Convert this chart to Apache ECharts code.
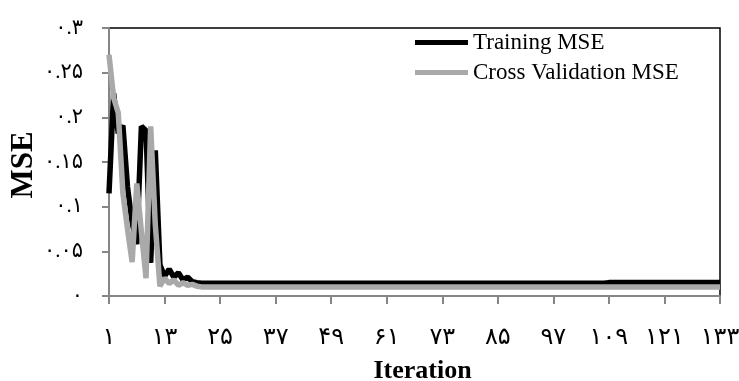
<!DOCTYPE html>
<html>
<head>
<meta charset="utf-8">
<script src="https://cdn.jsdelivr.net/npm/echarts@6/dist/echarts.min.js"></script>
<style>html,body{margin:0;padding:0;background:#fff;}#c{width:739px;height:381px;}</style>
</head>
<body>
<div id="c"></div>
<script>
// Iterations 1..133
var iterations = Array.from({length: 133}, function (_, i) { return i + 1; });
var xTickLabels = ['۱','۱۳','۲۵','۳۷','۴۹','۶۱','۷۳','۸۵','۹۷','۱۰۹','۱۲۱','۱۳۳'];
var yTickLabels = ['۰','۰.۰۵','۰.۱','۰.۱۵','۰.۲','۰.۲۵','۰.۳'];
var seriesNames = ['Training MSE', 'Cross Validation MSE'];

var trainingMSE = [
0.115,0.227,0.182,0.191,0.122,0.082,0.058,0.190,0.185,0.037,
0.163,0.035,0.022,0.030,0.021,0.026,0.018,0.021,0.016,0.015,
0.0142,0.0142,0.0142,0.0142,0.0142,0.0142,0.0142,0.0142,0.0142,0.0142,
0.0142,0.0142,0.0142,0.0142,0.0142,0.0142,0.0142,0.0142,0.0142,0.0142,
0.0142,0.0142,0.0142,0.0142,0.0142,0.0142,0.0142,0.0142,0.0142,0.0142,
0.0142,0.0142,0.0142,0.0142,0.0142,0.0142,0.0142,0.0142,0.0142,0.0142,
0.0142,0.0142,0.0142,0.0142,0.0142,0.0142,0.0142,0.0142,0.0142,0.0142,
0.0142,0.0142,0.0142,0.0142,0.0142,0.0142,0.0142,0.0142,0.0142,0.0142,
0.0142,0.0142,0.0142,0.0142,0.0142,0.0142,0.0142,0.0142,0.0142,0.0142,
0.0142,0.0142,0.0142,0.0142,0.0142,0.0142,0.0142,0.0142,0.0142,0.0142,
0.0142,0.0142,0.0142,0.0142,0.0142,0.0142,0.0142,0.0142,0.0150,0.0150,
0.0150,0.0150,0.0150,0.0150,0.0150,0.0150,0.0150,0.0150,0.0150,0.0150,
0.0150,0.0150,0.0150,0.0150,0.0150,0.0150,0.0150,0.0150,0.0150,0.0150,
0.0150,0.0150,0.0150
];

var crossValidationMSE = [
0.270,0.222,0.205,0.115,0.075,0.038,0.126,0.072,0.020,0.190,
0.080,0.011,0.020,0.014,0.018,0.012,0.015,0.012,0.013,0.011,
0.0102,0.0102,0.0102,0.0102,0.0102,0.0102,0.0102,0.0102,0.0102,0.0102,
0.0102,0.0102,0.0102,0.0102,0.0102,0.0102,0.0102,0.0102,0.0102,0.0102,
0.0102,0.0102,0.0102,0.0102,0.0102,0.0102,0.0102,0.0102,0.0102,0.0102,
0.0102,0.0102,0.0102,0.0102,0.0102,0.0102,0.0102,0.0102,0.0102,0.0102,
0.0102,0.0102,0.0102,0.0102,0.0102,0.0102,0.0102,0.0102,0.0102,0.0102,
0.0102,0.0102,0.0102,0.0102,0.0102,0.0102,0.0102,0.0102,0.0102,0.0102,
0.0102,0.0102,0.0102,0.0102,0.0102,0.0102,0.0102,0.0102,0.0102,0.0102,
0.0102,0.0102,0.0102,0.0102,0.0102,0.0102,0.0102,0.0102,0.0102,0.0102,
0.0102,0.0102,0.0102,0.0102,0.0102,0.0102,0.0102,0.0102,0.0102,0.0102,
0.0102,0.0102,0.0102,0.0102,0.0102,0.0102,0.0102,0.0102,0.0102,0.0102,
0.0102,0.0102,0.0102,0.0102,0.0102,0.0102,0.0102,0.0102,0.0102,0.0102,
0.0102,0.0102,0.0102
];

var FONT = "'Liberation Serif','Times New Roman','DejaVu Sans',serif";
var axisGrey = '#868686';
var greyLine = '#a9a9a9';

var chart = echarts.init(document.getElementById('c'), null, {renderer: 'canvas'});
chart.setOption({
  animation: false,
  backgroundColor: '#fff',
  grid: {left: 109, right: 19, top: 28, bottom: 85, containLabel: false, outerBoundsMode: 'none',
         show: true, borderColor: '#000', borderWidth: 1.5, backgroundColor: 'transparent'},
  legend: {
    orient: 'vertical', left: 415, top: 31, padding: 0, itemGap: 7,
    itemWidth: 53, itemHeight: 5, icon: 'rect',
    textStyle: {fontFamily: FONT, fontSize: 23, color: '#000'},
    data: [
      {name: seriesNames[0], itemStyle: {color: '#000'}},
      {name: seriesNames[1], itemStyle: {color: greyLine}}
    ]
  },
  xAxis: {
    type: 'category', data: iterations, boundaryGap: false,
    name: 'Iteration', nameLocation: 'middle', nameGap: 62, nameMoveOverlap: false,
    nameTextStyle: {fontFamily: FONT, fontSize: 26, fontWeight: 'bold', color: '#000', padding: [0, 0, 0, 16]},
    axisLine: {lineStyle: {color: axisGrey, width: 2}},
    axisTick: {show: true, interval: 11, length: 8, lineStyle: {color: axisGrey, width: 2}},
    axisLabel: {
      interval: 11, margin: 30, fontFamily: FONT, fontSize: 24, color: '#000', hideOverlap: false,
      formatter: function (v, idx) { return xTickLabels[Math.round(idx / 12)]; }
    },
    splitLine: {show: false}
  },
  yAxis: {
    type: 'value', min: 0, max: 0.3, interval: 0.05,
    name: 'MSE', nameLocation: 'middle', nameGap: 70, nameRotate: 90, nameMoveOverlap: false,
    nameTextStyle: {fontFamily: FONT, fontSize: 31, fontWeight: 'bold', color: '#000', padding: [0, 6, 0, 0]},
    axisLine: {show: true, lineStyle: {color: axisGrey, width: 2}},
    axisTick: {show: true, length: 7, lineStyle: {color: axisGrey, width: 2}},
    axisLabel: {
      margin: 26, fontFamily: FONT, fontSize: 21, color: '#000',
      formatter: function (v) { return yTickLabels[Math.round(v / 0.05)]; }
    },
    splitLine: {show: false}
  },
  series: [
    {name: seriesNames[0], type: 'line', data: trainingMSE, symbol: 'none',
     lineStyle: {color: '#000', width: 5.5}, itemStyle: {color: '#000'}},
    {name: seriesNames[1], type: 'line', data: crossValidationMSE, symbol: 'none',
     lineStyle: {color: greyLine, width: 5.5}, itemStyle: {color: greyLine}}
  ]
});
</script>
</body>
</html>
